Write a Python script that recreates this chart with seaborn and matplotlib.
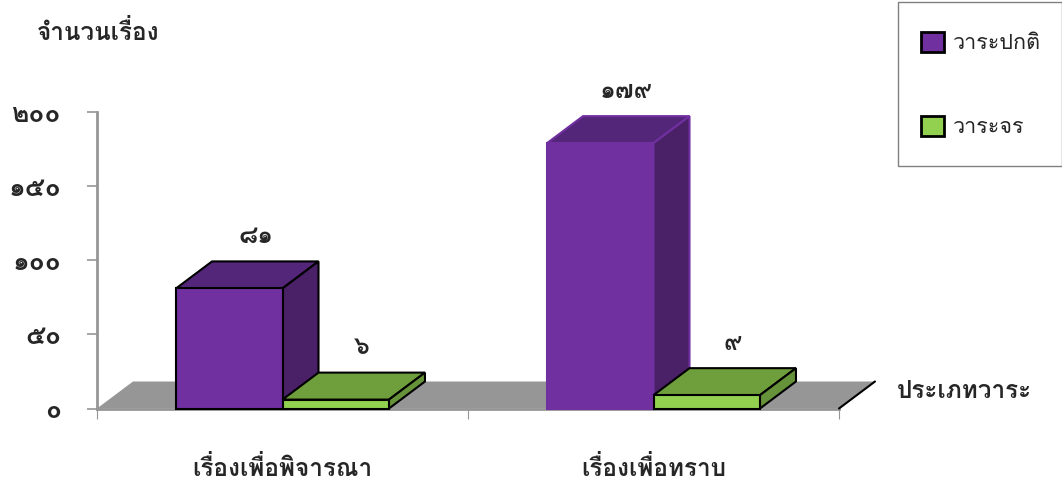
import matplotlib
matplotlib.use("Agg")
from matplotlib import pyplot as plt
from matplotlib.patches import Patch, Polygon, Rectangle
import pandas as pd
import seaborn as sns

categories = ["เรื่องเพื่อพิจารณา", "เรื่องเพื่อทราบ"]
series_names = ["วาระปกติ", "วาระจร"]
normal_values = [81, 179]
extra_values = [6, 9]
y_ticks = [0, 50, 100, 150, 200]
y_tick_labels = ["๐", "๕๐", "๑๐๐", "๑๕๐", "๒๐๐"]
normal_labels = ["๘๑", "๑๗๙"]
extra_labels = ["๖", "๙"]

W, H = 1062, 484
THAI = ["Loma", "Sarabun", "DejaVu Sans"]
GREY = "#969696"
colors = ["#7030A0", "#92D050"]
top_colors = ["#54267A", "#6F9E3C"]
side_colors = ["#4A2066", "#66933A"]

sns.set_style("white")
plt.rcParams["font.family"] = THAI

df = pd.DataFrame({
    "cat": categories * 2,
    "series": [series_names[0]] * 2 + [series_names[1]] * 2,
    "value": normal_values + extra_values,
})

fig = plt.figure(figsize=(W / 100, H / 100), dpi=100)
ax = fig.add_axes([97 / W, 1 - 408.5 / H, 742 / W, 296.5 / H])
sns.barplot(data=df, x="cat", y="value", hue="series", palette=colors, saturation=1,
            width=0.574, gap=0, legend=False, ax=ax)
ax.set_xlim(-0.5, 1.5)
ax.set_ylim(0, 200)

# fake 3d depth, same offset for every box
dx = 36 / 371
dy = 27 / (296.5 / 200)

# floor
ax.add_patch(Polygon([(-0.5, 0), (-0.5 + dx, dy), (1.5 + dx, dy), (1.5, 0)], closed=True,
                     facecolor=GREY, edgecolor="none", clip_on=False, zorder=1))
ax.plot([1.5, 1.5 + dx], [0, dy], color="black", lw=1.5, clip_on=False, zorder=1.5)

all_labels = [normal_labels, extra_labels]
for s, bars in enumerate(ax.containers):
    z = 2 + s
    for i, bar in enumerate(bars):
        x0 = bar.get_x()
        x1 = x0 + bar.get_width()
        h = bar.get_height()
        # the tall purple box has no black outline in the original
        edge = colors[0] if (s == 0 and i == 1) else "black"
        bar.set_edgecolor(edge)
        bar.set_linewidth(1.5)
        bar.set_zorder(z + 0.2)
        bar.set_clip_on(False)
        top = [(x0, h), (x0 + dx, h + dy), (x1 + dx, h + dy), (x1, h)]
        side = [(x1, 0), (x1 + dx, dy), (x1 + dx, h + dy), (x1, h)]
        ax.add_patch(Polygon(top, closed=True, facecolor=top_colors[s], edgecolor=edge, lw=1.5,
                             clip_on=False, zorder=z))
        ax.add_patch(Polygon(side, closed=True, facecolor=side_colors[s], edgecolor=edge, lw=1.5,
                             clip_on=False, zorder=z))
        ax.annotate(all_labels[s][i], ((x0 + x1) / 2 + dx / 2, h + dy), xytext=(6, 18),
                    textcoords="offset points", ha="center", va="center",
                    fontsize=18, fontweight="bold", annotation_clip=False, zorder=6)

for side in ["top", "right"]:
    ax.spines[side].set_visible(False)
for side in ["left", "bottom"]:
    ax.spines[side].set_color(GREY)
    ax.spines[side].set_linewidth(2)
    ax.spines[side].set_zorder(1.2)

ax.set_yticks(y_ticks)
ax.set_yticklabels(y_tick_labels, fontsize=19, fontweight="bold")
ax.tick_params(axis="y", length=7, width=1.2, color=GREY, pad=19, left=True)

ax.set_xticks([0, 1])
ax.set_xticklabels(categories, fontsize=17.5, fontweight="bold")
ax.tick_params(axis="x", which="major", length=0, pad=34)
ax.set_xticks([-0.5, 0.5, 1.5], minor=True)
ax.tick_params(axis="x", which="minor", length=7.5, width=0.8, color=GREY, bottom=True)

ax.set_xlabel("ประเภทวาระ", fontsize=17.5, fontweight="bold", ha="left", va="center")
ax.xaxis.set_label_coords(897 / W, 1 - 391 / H, transform=fig.transFigure)
ax.set_ylabel("จำนวนเรื่อง", fontsize=17.5, fontweight="bold", rotation=0, ha="left", va="center")
ax.yaxis.set_label_coords(37 / W, 1 - 32 / H, transform=fig.transFigure)

# legend box is bigger than the legend content, so draw the frame apart
fig.add_artist(Rectangle((897.5 / W, 1 - 166 / H), 164 / W, 164 / H, transform=fig.transFigure,
                         facecolor="white", edgecolor="#808080", lw=1, zorder=-1))
handles = [Patch(facecolor=c, edgecolor="black", linewidth=2) for c in colors]
leg = ax.legend(handles, series_names, loc="upper left", bbox_to_anchor=(921 / W, 1 - 32 / H),
                bbox_transform=fig.transFigure, borderaxespad=0, frameon=False, fontsize=15.5,
                handlelength=1.05, handleheight=1.05, handletextpad=0.45, borderpad=0, labelspacing=2.85)

fig.savefig("out.png", dpi=100)
